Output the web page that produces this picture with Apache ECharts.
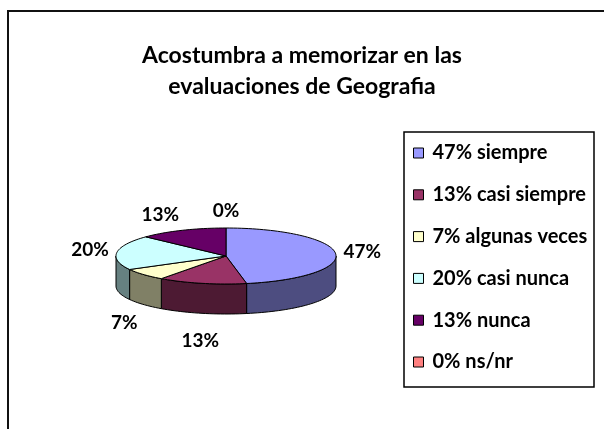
<!DOCTYPE html>
<html lang="es">
    <head>
        <meta charset="UTF-8" />
        <title>Acostumbra a memorizar</title>
        <script src="https://cdn.jsdelivr.net/npm/echarts@6/dist/echarts.min.js"></script>
        <style>
            html,
            body {
                margin: 0;
                padding: 0;
                background: #fff;
            }
            #chart {
                width: 604px;
                height: 429px;
            }
        </style>
    </head>

    <body>
        <div id="chart"></div>

        <script>
            var categories = ['siempre', 'casi siempre', 'algunas veces', 'casi nunca', 'nunca', 'ns/nr'];
            var percents = [47, 13, 7, 20, 13, 0];
            var topColors = ['#9999FF', '#993366', '#FFFFCC', '#CCFFFF', '#660066', '#FF8080'];
            var sideColors = ['#4D4D80', '#4D1A33', '#808066', '#668080', '#330033', '#804040'];

            var FONT = 'Lato, "Open Sans", sans-serif';

            // 3d pie geometry (screen pixels)
            var cx = 226, cy = 256, rx = 110, ry = 28, depth = 30;

            var total = percents.reduce(function (a, b) { return a + b; }, 0);

            function pt(t, dz) {
                return [cx + rx * Math.sin(t), cy - ry * Math.cos(t) + (dz || 0)];
            }

            function arc(a, b, dz) {
                var pts = [];
                var n = Math.max(2, Math.ceil((b - a) / (Math.PI / 90)));
                for (var k = 0; k <= n; k++) {
                    pts.push(pt(a + (b - a) * k / n, dz));
                }
                return pts;
            }

            function renderSlice(params, api) {
                var i = params.dataIndex;
                var before = 0;
                for (var k = 0; k < i; k++) before += percents[k];
                var a = before / total * Math.PI * 2;
                var b = (before + api.value(1)) / total * Math.PI * 2;
                var children = [];

                if (b > a) {
                    // front side wall
                    var lo = Math.max(a, Math.PI / 2), hi = Math.min(b, Math.PI * 1.5);
                    if (hi > lo) {
                        var wall = arc(lo, hi, 0).concat(arc(lo, hi, depth).reverse());
                        children.push({
                            type: 'polygon',
                            z2: 1,
                            shape: { points: wall },
                            style: { fill: sideColors[i], stroke: '#000', lineWidth: 1 }
                        });
                    }
                    // top face
                    children.push({
                        type: 'polygon',
                        z2: 10,
                        shape: { points: [[cx, cy]].concat(arc(a, b, 0)) },
                        style: { fill: topColors[i], stroke: '#000', lineWidth: 1 }
                    });
                }

                // value label
                var m = (a + b) / 2;
                var s = Math.sin(m), c = Math.cos(m);
                var lx = cx + (rx + 8) * s;
                var ly = c >= 0 ? cy - (ry + 17) * c : cy + depth - (ry + 28) * c;
                children.push({
                    type: 'text',
                    z2: 20,
                    x: lx,
                    y: ly,
                    style: {
                        text: api.value(1) + '%',
                        fill: '#000',
                        font: 'bold 19px ' + FONT,
                        align: s > 0.3 ? 'left' : s < -0.3 ? 'right' : 'center',
                        verticalAlign: 'middle'
                    }
                });

                return { type: 'group', children: children };
            }

            var element = document.getElementById('chart');
            var myChart = echarts.init(element);

            var option = {
                animation: false,
                backgroundColor: '#fff',
                title: {
                    text: 'Acostumbra a memorizar en las\nevaluaciones de Geografia',
                    left: 'center',
                    top: 40,
                    padding: 0,
                    textStyle: {
                        fontFamily: FONT,
                        fontWeight: 'bold',
                        fontSize: 23,
                        lineHeight: 31,
                        color: '#000'
                    }
                },
                legend: {
                    orient: 'vertical',
                    left: 413,
                    top: 143,
                    padding: 0,
                    itemWidth: 10,
                    itemHeight: 10,
                    itemGap: 21.8,
                    icon: 'rect',
                    selectedMode: false,
                    data: categories,
                    itemStyle: { borderColor: '#000', borderWidth: 1 },
                    formatter: function (name) {
                        return percents[categories.indexOf(name)] + '% ' + name;
                    },
                    textStyle: {
                        fontFamily: FONT,
                        fontWeight: 'bold',
                        fontSize: 20,
                        lineHeight: 20,
                        color: '#000',
                        padding: [0, 0, 0, 4]
                    }
                },
                graphic: [
                    {
                        type: 'rect',
                        silent: true,
                        shape: { x: 8, y: 11, width: 700, height: 500 },
                        style: { fill: null, stroke: '#111', lineWidth: 2 }
                    },
                    {
                        type: 'rect',
                        silent: true,
                        shape: { x: 404, y: 132, width: 190, height: 255 },
                        style: { fill: null, stroke: '#000', lineWidth: 1.5 }
                    }
                ],
                series: [
                    {
                        // only feeds the legend
                        type: 'pie',
                        radius: [0, 0],
                        center: [cx, cy],
                        silent: true,
                        label: { show: false },
                        data: categories.map(function (name, i) {
                            return { name: name, value: percents[i], itemStyle: { color: topColors[i] } };
                        })
                    },
                    {
                        type: 'custom',
                        coordinateSystem: 'none',
                        renderItem: renderSlice,
                        data: categories.map(function (name, i) {
                            return { name: name, value: [i, percents[i]] };
                        })
                    }
                ]
            };
            myChart.setOption(option, true);
        </script>
    </body>
</html>
